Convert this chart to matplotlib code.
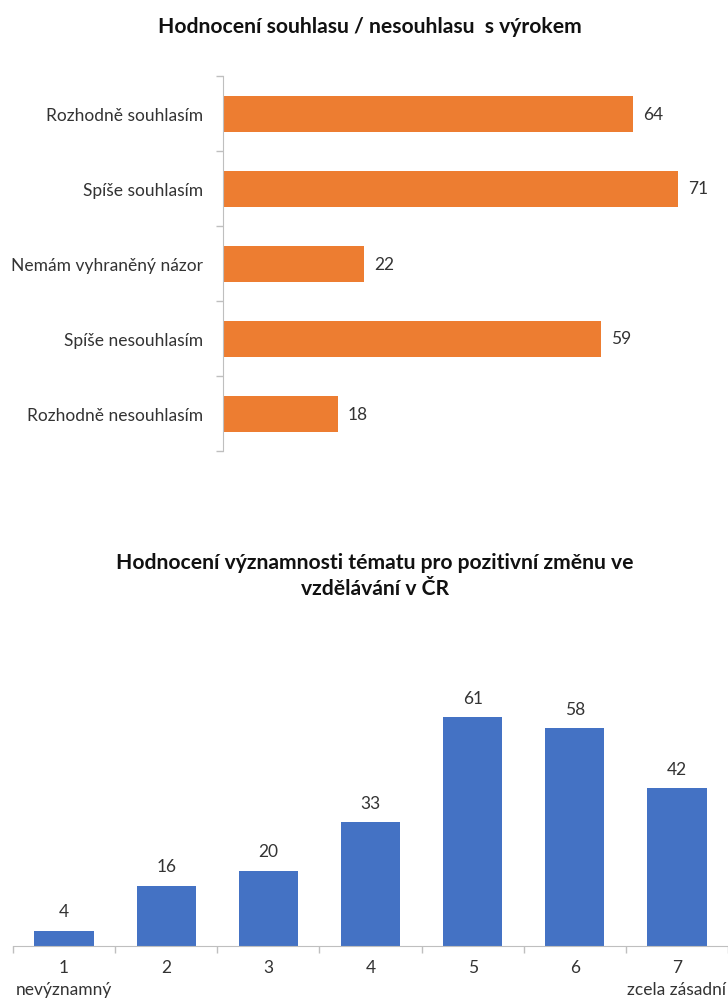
import matplotlib.pyplot as plt
import numpy as np

plt.rcParams['font.family'] = ['Lato', 'DejaVu Sans']

# souhlas / nesouhlas s výrokem
agree_labels = ["Rozhodně souhlasím", "Spíše souhlasím", "Nemám vyhraněný názor",
                "Spíše nesouhlasím", "Rozhodně nesouhlasím"]
agree_counts = [64, 71, 22, 59, 18]

# významnost tématu, škála 1-7
scale_labels = ["1\nnevýznamný", "2", "3", "4", "5", "6", "7\nzcela zásadní"]
scale_counts = [4, 16, 20, 33, 61, 58, 42]

ORANGE = "#ED7D31"
BLUE = "#4472C4"
TEXT = "#333333"
AXIS = "#BFBFBF"
FS = 12.5

W, H = 728, 1004
fig = plt.figure(figsize=(W / 100, H / 100), dpi=100)


def px_axes(left, top, right, bottom):
    return fig.add_axes([left / W, 1 - bottom / H, (right - left) / W, (bottom - top) / H])


# --- horní graf: vodorovné sloupce ---
ax1 = px_axes(222.5, 77, 222.5 + 80 * 6.42, 452)
y = np.arange(len(agree_labels))
bars1 = ax1.barh(y, agree_counts, height=0.48, color=ORANGE)
ax1.set_xlim(0, 80)
ax1.set_ylim(len(agree_labels) - 0.5, -0.5)
ax1.set_yticks(y)
ax1.set_yticklabels(agree_labels, fontsize=FS, color=TEXT)
ax1.tick_params(axis='y', which='major', length=0, pad=14)
ax1.set_yticks(np.arange(-0.5, len(agree_labels)), minor=True)
ax1.tick_params(axis='y', which='minor', length=5, color=AXIS, width=1)
ax1.set_xticks([])
for s in ['top', 'right', 'bottom']:
    ax1.spines[s].set_visible(False)
ax1.spines['left'].set_color(AXIS)
for b, v in zip(bars1, agree_counts):
    ax1.annotate(str(v), (v, b.get_y() + b.get_height() / 2), xytext=(7.2, 0),
                 textcoords='offset points', ha='left', va='center',
                 fontsize=FS, color=TEXT)

fig.text(370 / W, 1 - 27 / H, "Hodnocení souhlasu / nesouhlasu  s výrokem",
         ha='center', va='center', fontsize=15.2, fontweight='bold', color='#111111')

# --- dolní graf: svislé sloupce ---
ax2 = px_axes(13, 946.5 - 70 * 3.75, 728, 946.5)
x = np.arange(len(scale_labels))
bars2 = ax2.bar(x, scale_counts, width=0.58, color=BLUE)
ax2.set_xlim(-0.5, len(scale_labels) - 0.5)
ax2.set_ylim(0, 70)
ax2.set_xticks(x)
ax2.set_xticklabels(scale_labels, fontsize=FS, color=TEXT, linespacing=1.4)
ax2.tick_params(axis='x', which='major', length=0, pad=10)
ax2.set_xticks(np.arange(-0.5, len(scale_labels)), minor=True)
ax2.tick_params(axis='x', which='minor', length=5, color=AXIS, width=1)
ax2.set_yticks([])
for s in ['top', 'right', 'left']:
    ax2.spines[s].set_visible(False)
ax2.spines['bottom'].set_color(AXIS)
for b, v in zip(bars2, scale_counts):
    ax2.annotate(str(v), (b.get_x() + b.get_width() / 2, v), xytext=(0, 13.7),
                 textcoords='offset points', ha='center', va='center',
                 fontsize=FS, color=TEXT)

fig.text(375 / W, 1 - 576 / H,
         "Hodnocení významnosti tématu pro pozitivní změnu ve\nvzdělávání v ČR",
         ha='center', va='center', fontsize=15.2, fontweight='bold',
         color='#111111', linespacing=1.35)

fig.savefig("out.png", dpi=100, facecolor='white')
